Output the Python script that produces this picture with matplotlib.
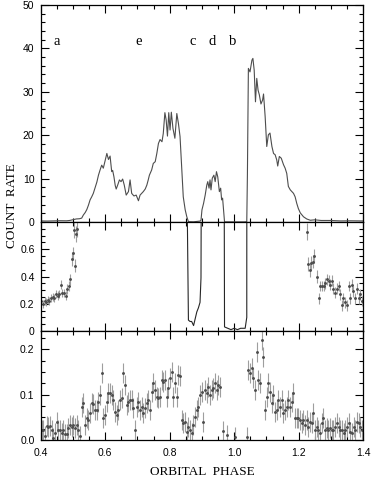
import numpy as np
import matplotlib
matplotlib.use("Agg")
import matplotlib.pyplot as plt
from matplotlib.ticker import MultipleLocator

# light curve, top panel (also the eclipse part of the middle panel)
lc_phase = [0.400, 0.420, 0.440, 0.460, 0.480, 0.490, 0.500, 0.510, 0.520, 0.527,
            0.532, 0.538, 0.543, 0.548, 0.553, 0.558, 0.563, 0.568, 0.574, 0.579,
            0.584, 0.589, 0.594, 0.599, 0.605, 0.610, 0.615, 0.620, 0.623, 0.627,
            0.631, 0.634, 0.639, 0.644, 0.649, 0.654, 0.659, 0.665, 0.672, 0.677,
            0.682, 0.689, 0.696, 0.703, 0.708, 0.713, 0.718, 0.724, 0.729, 0.733,
            0.737, 0.744, 0.749, 0.755, 0.760, 0.765, 0.770, 0.776, 0.780, 0.785,
            0.789, 0.793, 0.797, 0.801, 0.805, 0.810, 0.816, 0.822, 0.827, 0.832,
            0.837, 0.842, 0.848, 0.853, 0.858, 0.863, 0.868, 0.874, 0.879, 0.884,
            0.889, 0.894, 0.897, 0.900, 0.905, 0.910, 0.915, 0.918, 0.922, 0.925,
            0.928, 0.932, 0.937, 0.941, 0.945, 0.949, 0.954, 0.958, 0.961, 0.964,
            0.968, 0.970, 0.980, 0.990, 1.000, 1.010, 1.020, 1.034, 1.039, 1.041,
            1.044, 1.049, 1.055, 1.058, 1.062, 1.066, 1.070, 1.074, 1.078, 1.083,
            1.088, 1.091, 1.096, 1.101, 1.106, 1.111, 1.117, 1.122, 1.127, 1.132,
            1.135, 1.140, 1.146, 1.153, 1.158, 1.163, 1.168, 1.174, 1.179, 1.184,
            1.189, 1.194, 1.199, 1.205, 1.215, 1.225, 1.236, 1.250, 1.270, 1.300,
            1.330, 1.360, 1.400]
lc_rate = [0.25, 0.22, 0.26, 0.30, 0.28, 0.36, 0.52, 0.70, 0.75, 0.9,
           1.6, 2.2, 2.9, 3.9, 5.1, 5.8, 6.6, 7.8, 9.2, 10.8,
           12.0, 13.1, 12.4, 13.9, 15.8, 14.4, 15.2, 11.6, 11.9, 10.4,
           8.4, 7.6, 8.6, 9.7, 9.3, 9.9, 8.5, 6.2, 7.0, 9.7,
           6.6, 6.0, 6.2, 4.9, 6.2, 6.6, 7.0, 7.6, 8.5, 9.6,
           10.8, 12.0, 13.5, 13.9, 15.8, 18.1, 19.0, 18.5, 20.4, 25.2,
           23.5, 19.8, 25.2, 21.2, 25.3, 21.6, 19.3, 25.0, 22.7, 19.7,
           12.7, 5.8, 2.8, 1.2, 0.08, 0.07, 0.07, 0.04, 0.09, 0.14,
           0.17, 0.21, 0.39, 2.8, 4.3, 6.2, 8.5, 9.3, 7.8, 9.7,
           7.4, 10.1, 10.8, 9.3, 11.6, 10.4, 7.0, 7.8, 5.1, 5.5,
           2.0, 0.03, 0.02, 0.01, 0.02, 0.01, 0.02, 0.02, 0.1, 11.0,
           35.4, 34.6, 37.3, 37.7, 35.0, 27.7, 33.1, 30.4, 29.3, 27.2,
           28.1, 29.5, 24.3, 17.4, 20.1, 20.5, 17.4, 15.8, 15.5, 14.3,
           12.9, 15.1, 14.7, 13.2, 12.4, 11.2, 8.2, 7.4, 7.0, 6.6,
           5.8, 4.3, 3.1, 2.1, 1.2, 0.7, 0.4, 0.5, 0.35, 0.35,
           0.25, 0.28, 0.25]

# middle panel: out-of-eclipse wings with error bars
wing_phase = [0.402, 0.407, 0.412, 0.417, 0.422, 0.427, 0.432, 0.437, 0.442, 0.447,
              0.452, 0.457, 0.462, 0.467, 0.472, 0.477, 0.482, 0.487, 0.492, 0.497,
              0.500, 0.503, 0.506, 0.509, 0.513,
              1.225, 1.230, 1.235, 1.238, 1.243, 1.248, 1.256, 1.262, 1.267, 1.272,
              1.277, 1.282, 1.288, 1.293, 1.298, 1.303, 1.308, 1.313, 1.319, 1.324,
              1.329, 1.334, 1.339, 1.344, 1.350, 1.355, 1.360, 1.365, 1.370, 1.375,
              1.381, 1.386, 1.391, 1.396]
wing_rate = [0.22, 0.20, 0.22, 0.21, 0.23, 0.22, 0.24, 0.25, 0.24, 0.27,
             0.26, 0.27, 0.34, 0.28, 0.28, 0.26, 0.31, 0.33, 0.38, 0.53,
             0.57, 0.74, 0.48, 0.71, 0.75,
             0.73, 0.49, 0.45, 0.50, 0.51, 0.55, 0.40, 0.24, 0.33, 0.33,
             0.33, 0.35, 0.38, 0.37, 0.34, 0.37, 0.31, 0.28, 0.31, 0.33,
             0.27, 0.19, 0.24, 0.21, 0.19, 0.33, 0.24, 0.34, 0.29, 0.24,
             0.31, 0.24, 0.27, 0.22]
wing_err = [0.03, 0.03, 0.03, 0.03, 0.03, 0.03, 0.03, 0.03, 0.03, 0.03,
            0.03, 0.03, 0.035, 0.03, 0.03, 0.03, 0.035, 0.035, 0.04, 0.05,
            0.05, 0.06, 0.05, 0.06, 0.06,
            0.06, 0.05, 0.05, 0.05, 0.05, 0.05, 0.045, 0.04, 0.04, 0.04,
            0.04, 0.04, 0.04, 0.04, 0.04, 0.04, 0.04, 0.04, 0.04, 0.04,
            0.04, 0.04, 0.04, 0.04, 0.04, 0.04, 0.04, 0.04, 0.04, 0.04,
            0.04, 0.04, 0.04, 0.04]

# bottom panel: second band, before and after the eclipse
hard_left = [0.023, 0.022, 0.009, 0.031, 0.029, 0.031, 0.022, 0.004, 0.015, 0.040,
             0.022, 0.023, 0.015, 0.022, 0.013, 0.013, 0.026, 0.034, 0.029, 0.033,
             0.026, 0.034, 0.022, 0.009, 0.073, 0.081, 0.033, 0.048, 0.044, 0.059,
             0.081, 0.079, 0.067, 0.066, 0.084, 0.099, 0.147, 0.048, 0.055, 0.084,
             0.103, 0.103, 0.099, 0.088, 0.062, 0.055, 0.066, 0.088, 0.092, 0.147,
             0.121, 0.077, 0.084, 0.088, 0.088, 0.070, 0.022, 0.073, 0.084, 0.066,
             0.073, 0.059, 0.070, 0.081, 0.088, 0.066, 0.106, 0.125, 0.110, 0.095,
             0.092, 0.095, 0.132, 0.128, 0.132, 0.095, 0.114, 0.136, 0.150, 0.095,
             0.125, 0.095, 0.143, 0.141, 0.044, 0.037, 0.040, 0.018, 0.029, 0.022,
             0.015, 0.033, 0.051, 0.066, 0.073, 0.099, 0.106, 0.040, 0.110, 0.103,
             0.117, 0.099, 0.110, 0.114, 0.125, 0.110, 0.121, 0.117]
hard_right = [0.154, 0.147, 0.158, 0.136, 0.110, 0.194, 0.132, 0.125, 0.220, 0.183,
              0.066, 0.095, 0.125, 0.106, 0.081, 0.099, 0.062, 0.066, 0.088, 0.073,
              0.088, 0.059, 0.066, 0.073, 0.088, 0.073, 0.084, 0.103, 0.048, 0.048,
              0.048, 0.044, 0.037, 0.044, 0.033, 0.044, 0.029, 0.040, 0.037, 0.059,
              0.022, 0.029, 0.022, 0.015, 0.037, 0.048, 0.022, 0.026, 0.022, 0.026,
              0.022, 0.023, 0.029, 0.037, 0.029, 0.022, 0.022, 0.015, 0.022, 0.029,
              0.037, 0.018, 0.015, 0.029, 0.022, 0.040, 0.037, 0.029, 0.022]
hard_ecl_phase = [0.965, 0.977, 1.003, 1.039]
hard_ecl_rate = [0.020, 0.010, 0.006, 0.007]
hard_err = 0.022

phase_letters = ["a", "e", "c", "d", "b"]
letter_phase = [0.450, 0.702, 0.871, 0.933, 0.995]

hard_phase = np.concatenate([np.linspace(0.403, 0.956, len(hard_left)),
                             hard_ecl_phase,
                             np.linspace(1.044, 1.396, len(hard_right))])
hard_rate = np.concatenate([hard_left, hard_ecl_rate, hard_right])

serif = "Liberation Serif"
plt.rcParams["font.family"] = "Liberation Sans"
plt.rcParams["font.size"] = 7.5

fig = plt.figure(figsize=(3.74, 4.8), dpi=100)
left, width = 0.109, 0.862
ax1 = fig.add_axes([left, 0.5375, width, 0.452])
ax2 = fig.add_axes([left, 0.3104, width, 0.2271])
ax3 = fig.add_axes([left, 0.0833, width, 0.2271])

line_col = "0.3"
err_col = "0.62"

ax1.plot(lc_phase, lc_rate, color=line_col, lw=0.8)
for ph, lab in zip(letter_phase, phase_letters):
    ax1.text(ph, 41.5, lab, ha="center", va="center", fontsize=10.5, family=serif)

lc_phase_arr = np.array(lc_phase)
ecl = (lc_phase_arr > 0.84) & (lc_phase_arr < 1.046)
ax2.plot(lc_phase_arr[ecl], np.array(lc_rate)[ecl], color="0.15", lw=0.8)
ax2.errorbar(wing_phase, wing_rate, yerr=wing_err, fmt=".", ms=2.2,
             color="0.3", ecolor=err_col, elinewidth=0.8, capsize=0)

ax3.errorbar(hard_phase, hard_rate, yerr=hard_err, fmt=".", ms=2.2,
             color="0.3", ecolor=err_col, elinewidth=0.8, capsize=0)

ax1.set_ylim(0, 50)
ax1.yaxis.set_major_locator(MultipleLocator(10))
ax1.yaxis.set_minor_locator(MultipleLocator(2))
ax2.set_ylim(0, 0.8)
ax2.set_yticks([0, 0.2, 0.4, 0.6], ["0", "0.2", "0.4", "0.6"])
ax2.yaxis.set_minor_locator(MultipleLocator(0.05))
ax3.set_ylim(0, 0.24)
ax3.set_yticks([0, 0.1, 0.2], ["0.0", "0.1", "0.2"])
ax3.yaxis.set_minor_locator(MultipleLocator(0.025))

for ax in (ax1, ax2, ax3):
    ax.set_xlim(0.4, 1.4)
    ax.xaxis.set_major_locator(MultipleLocator(0.2))
    ax.xaxis.set_minor_locator(MultipleLocator(0.05))
    ax.tick_params(which="both", direction="in", top=True, right=True,
                   width=0.8, pad=4.5)
    ax.tick_params(which="major", length=5.5)
    ax.tick_params(which="minor", length=2.8)
    for sp in ax.spines.values():
        sp.set_linewidth(0.9)
for ax in (ax1, ax2):
    ax.tick_params(labelbottom=False)
ax3.tick_params(axis="x", pad=5.5)
ax3.set_xticks([0.4, 0.6, 0.8, 1.0, 1.2, 1.4], ["0.4", "0.6", "0.8", "1.0", "1.2", "1.4"])

fig.text(0.54, 0.0167, "ORBITAL  PHASE", ha="center", va="center",
         fontsize=9.5, family=serif)
fig.text(0.033, 0.571, "COUNT  RATE", ha="center", va="center",
         rotation=90, fontsize=9.5, family=serif)

fig.savefig("out.png", dpi=100)
